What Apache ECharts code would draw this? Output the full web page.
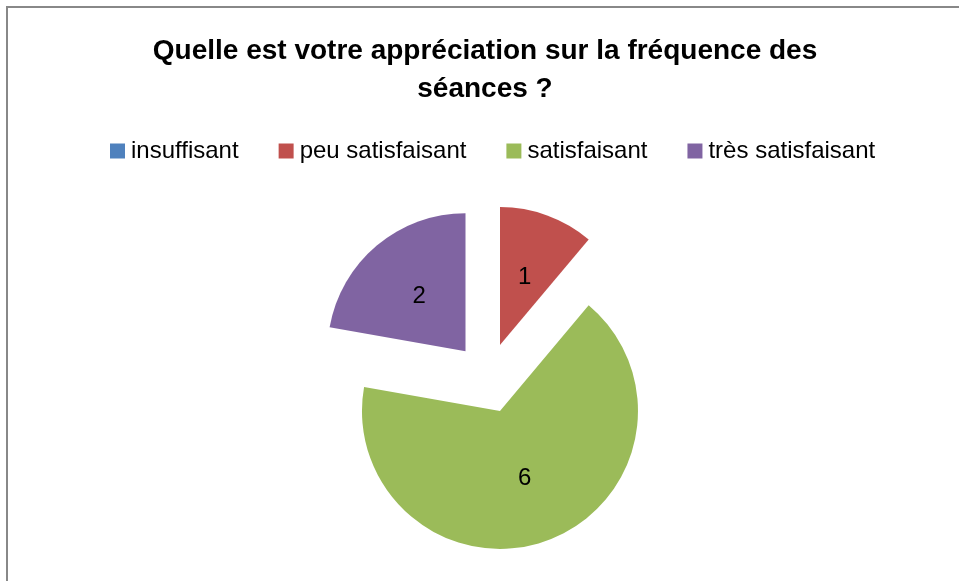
<!DOCTYPE html>
<html>
<head>
<meta charset="utf-8">
<script src="https://cdn.jsdelivr.net/npm/echarts@6/dist/echarts.min.js"></script>
<style>
  html, body { margin: 0; padding: 0; background: #fff; }
  #chart { width: 959px; height: 581px; }
</style>
</head>
<body>
<div id="chart"></div>
<script>
var categories = ['insuffisant', 'peu satisfaisant', 'satisfaisant', 'très satisfaisant'];
var values = [0, 1, 6, 2];
var colors = ['#4F81BD', '#C0504D', '#9BBB59', '#8064A2'];

var chart = echarts.init(document.getElementById('chart'));

// toutes les parts sont détachées (camembert éclaté)
var data = categories.map(function (name, i) {
    return { name: name, value: values[i], selected: true, itemStyle: { color: colors[i] } };
});

var option = {
    animation: false,
    backgroundColor: '#fff',
    title: {
        text: 'Quelle est votre appréciation sur la fréquence des\nséances ?',
        left: 485,
        top: 32,
        padding: 0,
        textAlign: 'center',
        textStyle: {
            fontFamily: 'Liberation Sans',
            fontWeight: 'bold',
            fontSize: 28,
            lineHeight: 38,
            color: '#000'
        }
    },
    legend: {
        data: categories,
        left: 105,
        top: 134,
        icon: 'rect',
        itemWidth: 15,
        itemHeight: 15,
        itemGap: 40,
        selectedMode: false,
        textStyle: {
            fontFamily: 'Liberation Sans',
            fontSize: 24,
            color: '#000',
            padding: [0, 0, 0, 1]
        }
    },
    graphic: [{
        type: 'rect',
        shape: { x: 7, y: 7, width: 960, height: 600 },
        style: { fill: null, stroke: '#888', lineWidth: 2 },
        silent: true
    }],
    series: [{
        type: 'pie',
        center: [488, 378],
        radius: 138,
        startAngle: 90,
        clockwise: true,
        selectedMode: 'multiple',
        selectedOffset: 35,
        avoidLabelOverlap: false,
        itemStyle: { borderWidth: 0 },
        emphasis: { disabled: true },
        label: {
            show: true,
            position: 'inside',
            fontFamily: 'Liberation Sans',
            fontSize: 24,
            color: '#000',
            formatter: function (p) { return p.value ? String(p.value) : ''; }
        },
        labelLine: { show: false },
        data: data
    }]
};
chart.setOption(option);
</script>
</body>
</html>
